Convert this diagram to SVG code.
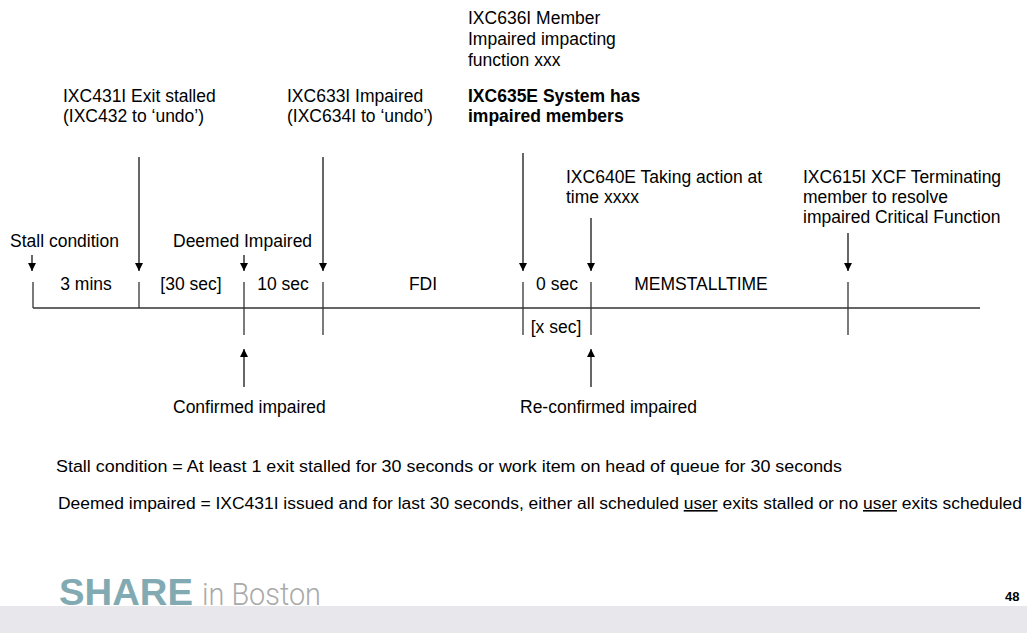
<svg xmlns="http://www.w3.org/2000/svg" width="1027" height="633" viewBox="0 0 1027 633">
<defs>
<marker id="ah" viewBox="0 0 10 10" refX="10" refY="5" markerWidth="8" markerHeight="8" markerUnits="userSpaceOnUse" orient="auto">
<path d="M0,0 L10,5 L0,10 Z" fill="#000"/>
</marker>
<style>
text{font-family:"Liberation Sans",Arial,sans-serif;font-size:17.5px;fill:#000}
.b{font-weight:bold}
.m{text-anchor:middle}
.ax{stroke:#333;stroke-width:1.3;fill:none}
.ar{stroke:#000;stroke-width:1.2;fill:none;marker-end:url(#ah)}
.note{font-family:"Liberation Sans Narrow","Liberation Sans",Arial,sans-serif;font-size:16px}
</style>
</defs>
<rect width="1027" height="633" fill="#fff"/>
<rect x="0" y="606" width="1027" height="27" fill="#e8e8ec"/>

<g id="timeline">
<line class="ax" x1="33" y1="308" x2="980" y2="308"/>
<line class="ax" x1="33" y1="282" x2="33" y2="308"/>
<line class="ax" x1="139" y1="282" x2="139" y2="308"/>
<line class="ax" x1="244" y1="282" x2="244" y2="335"/>
<line class="ax" x1="323" y1="282" x2="323" y2="335"/>
<line class="ax" x1="523" y1="282" x2="523" y2="335"/>
<line class="ax" x1="591" y1="282" x2="591" y2="335"/>
<line class="ax" x1="848" y1="282" x2="848" y2="335"/>
<text class="m" x="86" y="290">3 mins</text>
<text class="m" x="191" y="290">[30 sec]</text>
<text class="m" x="283" y="290">10 sec</text>
<text class="m" x="423" y="290">FDI</text>
<text class="m" x="557" y="290">0 sec</text>
<text class="m" x="701" y="290">MEMSTALLTIME</text>
<text class="m" x="556" y="333">[x sec]</text>
</g>

<g id="connectors">
<line class="ar" x1="32" y1="255" x2="32" y2="271"/>
<line class="ar" x1="139" y1="157" x2="139" y2="271"/>
<line class="ar" x1="244" y1="255" x2="244" y2="271"/>
<line class="ar" x1="323" y1="157" x2="323" y2="271"/>
<line class="ar" x1="523" y1="153" x2="523" y2="271"/>
<line class="ar" x1="591" y1="218" x2="591" y2="271"/>
<line class="ar" x1="848" y1="233" x2="848" y2="271"/>
<line class="ar" x1="244" y1="387" x2="244" y2="349"/>
<line class="ar" x1="591" y1="387" x2="591" y2="349"/>
</g>

<g id="n-stall"><text x="10" y="247">Stall condition</text></g>
<g id="n-deemed"><text x="173" y="247">Deemed Impaired</text></g>
<g id="n-ixc431"><text x="63" y="102">IXC431I Exit stalled</text><text x="63" y="122">(IXC432 to ‘undo’)</text></g>
<g id="n-ixc633"><text x="287" y="102">IXC633I Impaired</text><text x="287" y="122">(IXC634I to ‘undo’)</text></g>
<g id="n-ixc636"><text x="468" y="24">IXC636I Member</text><text x="468" y="45">Impaired impacting</text><text x="468" y="66">function xxx</text>
<text class="b" x="468" y="102">IXC635E System has</text><text class="b" x="468" y="122">impaired members</text></g>
<g id="n-ixc640"><text x="566" y="183">IXC640E Taking action at</text><text x="566" y="203">time xxxx</text></g>
<g id="n-ixc615"><text x="803" y="183">IXC615I XCF Terminating</text><text x="803" y="203">member to resolve</text><text x="803" y="223">impaired Critical Function</text></g>
<g id="n-confirmed"><text x="173" y="413">Confirmed impaired</text></g>
<g id="n-reconfirmed"><text x="520" y="413">Re-confirmed impaired</text></g>

<g id="notes">
<text class="note" x="56" y="472" textLength="786" lengthAdjust="spacingAndGlyphs">Stall condition = At least 1 exit stalled for 30 seconds or work item on head of queue for 30 seconds</text>
<text class="note" x="58" y="509" textLength="964" lengthAdjust="spacingAndGlyphs">Deemed impaired = IXC431I issued and for last 30 seconds, either all scheduled <tspan text-decoration="underline">user</tspan> exits stalled or no <tspan text-decoration="underline">user</tspan> exits scheduled</text>
</g>

<g id="footer">
<text x="59" y="605" style="font-size:37px;font-weight:bold;fill:#82aab2" textLength="134" lengthAdjust="spacingAndGlyphs">SHARE</text>
<text x="202" y="605" style="font-family:Roboto,'Liberation Sans',sans-serif;font-weight:300;font-size:32px;fill:#aaaaaa" textLength="119" lengthAdjust="spacingAndGlyphs">in Boston</text>
<text x="1005" y="601" class="b" style="font-size:13px">48</text>
</g>
</svg>
